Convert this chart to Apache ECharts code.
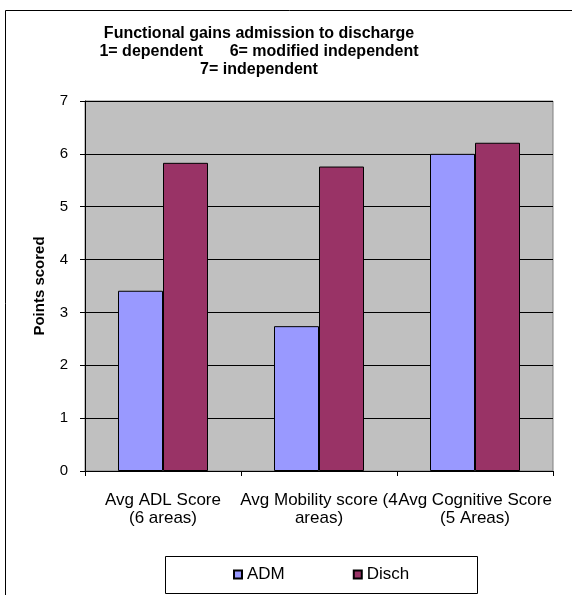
<!DOCTYPE html>
<html>
<head>
<meta charset="utf-8">
<script src="https://cdn.jsdelivr.net/npm/echarts@6/dist/echarts.min.js"></script>
<style>
html,body{margin:0;padding:0;background:#fff;}
#c{width:572px;height:595px;}
</style>
</head>
<body>
<div id="c"></div>
<script>
const categories = ['Avg ADL Score\n(6 areas)', 'Avg Mobility score (4\nareas)', 'Avg Cognitive Score\n(5 Areas)'];
const admValues = [3.41, 2.74, 6.0];
const dischValues = [5.83, 5.76, 6.21];
const yTicks = [0, 1, 2, 3, 4, 5, 6, 7];
const titleText = 'Functional gains admission to discharge\n1= dependent      6= modified independent\n7= independent';

const FONT = 'Arial, "Liberation Sans", sans-serif';
const chart = echarts.init(document.getElementById('c'), null, {renderer: 'canvas'});
chart.setOption({
  backgroundColor: '#fff',
  animation: false,
  title: {
    text: titleText,
    left: 254, top: 20, textAlign: 'center',
    textStyle: {fontFamily: FONT, fontSize: 16, fontWeight: 'bold', color: '#000', lineHeight: 18}
  },
  graphic: [
    {type: 'rect', shape: {x: 5.5, y: 10.5, width: 700, height: 700}, style: {fill: 'none', stroke: '#000', lineWidth: 1}, z: 0},
    {type: 'rect', shape: {x: 165.5, y: 556.5, width: 312, height: 37}, style: {fill: '#fff', stroke: '#000', lineWidth: 1}, z: 1}
  ],
  legend: {
    data: ['ADM', 'Disch'],
    left: 228, top: 561,
    itemWidth: 8, itemHeight: 8, itemGap: 68,
    icon: 'rect',
    textStyle: {fontFamily: FONT, fontSize: 17, color: '#000'},
    z: 5
  },
  grid: {
    left: 85, right: 19, top: 101, bottom: 124,
    show: true, backgroundColor: '#c0c0c0', borderColor: '#808080', borderWidth: 1
  },
  xAxis: {
    type: 'category', data: categories,
    axisLine: {lineStyle: {color: '#000', width: 1}},
    axisTick: {show: true, length: 5, alignWithLabel: false, lineStyle: {color: '#000'}},
    axisLabel: {interval: 0, margin: 20, fontFamily: FONT, fontSize: 17, lineHeight: 18, color: '#000'}
  },
  yAxis: {
    type: 'value', min: yTicks[0], max: yTicks[yTicks.length - 1], interval: 1,
    name: 'Points scored', nameLocation: 'middle', nameRotate: 90, nameGap: 38,
    nameTextStyle: {fontFamily: FONT, fontSize: 15, fontWeight: 'bold', color: '#000'},
    axisLine: {show: true, lineStyle: {color: '#000', width: 1}},
    axisTick: {show: true, length: 5, lineStyle: {color: '#000'}},
    axisLabel: {margin: 17, fontFamily: FONT, fontSize: 15, color: '#000'},
    splitLine: {show: true, lineStyle: {color: '#000', width: 1}}
  },
  series: [
    {name: 'ADM', type: 'bar', data: admValues, barWidth: 45, barGap: '0%',
     itemStyle: {color: '#9999ff', borderColor: '#000', borderWidth: 1}},
    {name: 'Disch', type: 'bar', data: dischValues, barWidth: 45, barGap: '0%',
     itemStyle: {color: '#993366', borderColor: '#000', borderWidth: 1}}
  ]
});
</script>
</body>
</html>
